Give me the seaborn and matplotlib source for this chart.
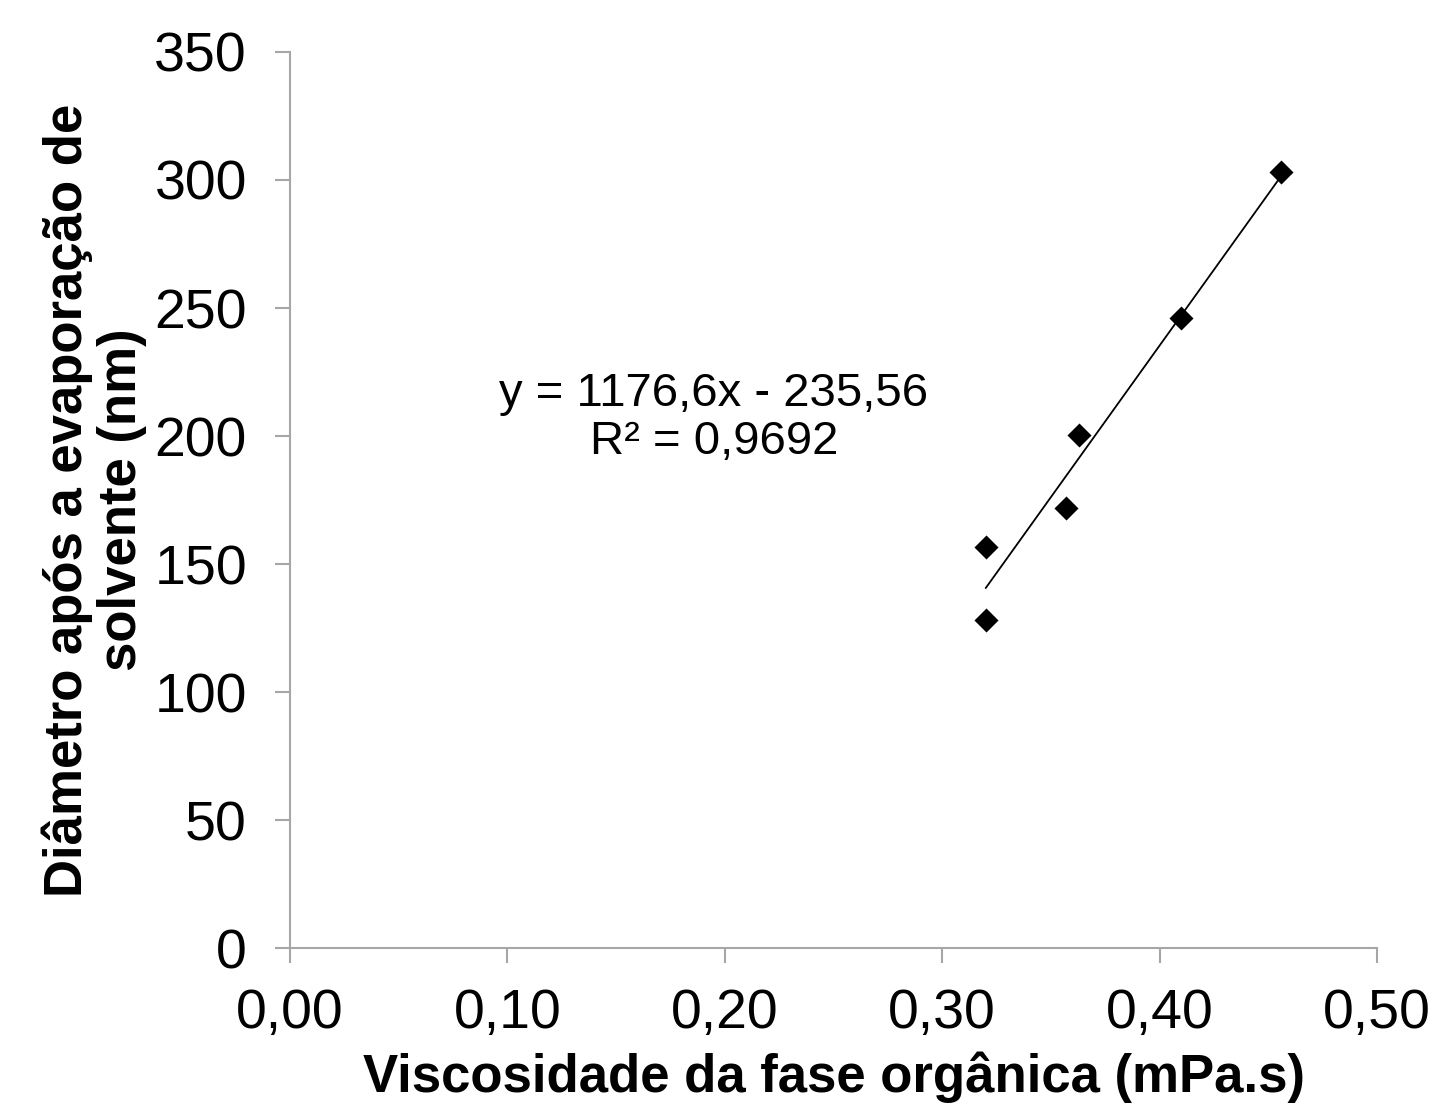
import numpy as np
import pandas as pd
import seaborn as sns
import matplotlib.pyplot as plt

# data
viscosidade = [0.320, 0.320, 0.357, 0.363, 0.410, 0.456]
diametro = [156.5, 128.0, 172.0, 200.5, 246.0, 303.0]
eq_text = "y = 1176,6x - 235,56\nR² = 0,9692"
x_ticks = [0.0, 0.1, 0.2, 0.3, 0.4, 0.5]
y_ticks = [0, 50, 100, 150, 200, 250, 300, 350]

df = pd.DataFrame({"visc": viscosidade, "diam": diametro})

sns.set_style("white")
plt.rcParams["font.family"] = ["Liberation Sans", "DejaVu Sans"]
plt.rcParams["text.color"] = "black"
plt.rcParams["axes.labelcolor"] = "black"

fig = plt.figure(figsize=(14.35, 11.11), dpi=100)
ax = fig.add_axes([0.2021, 0.1467, 0.7575, 0.8065])

sns.regplot(data=df, x="visc", y="diam", scatter=False, ci=None,
            color="black", line_kws={"linewidth": 1.3}, ax=ax)
sns.scatterplot(data=df, x="visc", y="diam", marker="D", s=150,
                color="black", linewidth=0, ax=ax, zorder=3)

ax.set_xlim(0, 0.5)
ax.set_ylim(0, 350)
ax.set_xticks(x_ticks)
ax.set_yticks(y_ticks)
ax.set_xticklabels([f"{v:.2f}".replace(".", ",") for v in x_ticks])
ax.set_yticklabels([str(v) for v in y_ticks])

for s in ["top", "right"]:
    ax.spines[s].set_visible(False)
for s in ["left", "bottom"]:
    ax.spines[s].set_color("#a6a6a6")
    ax.spines[s].set_linewidth(1.5)

ax.tick_params(axis="both", which="major", direction="out", length=11,
               width=1.5, color="#a6a6a6", labelcolor="black",
               labelsize=40, bottom=True, left=True)
ax.tick_params(axis="y", pad=20)
ax.tick_params(axis="x", pad=18)

ax.set_xlabel("Viscosidade da fase orgânica (mPa.s)", fontsize=38,
              fontweight="bold", labelpad=8)
ax.set_ylabel("Diâmetro após a evaporação de\nsolvente (nm)", fontsize=38,
              fontweight="bold", labelpad=5, linespacing=1.1)

ax.text(0.195, 207, eq_text, ha="center", va="center", fontsize=34,
        linespacing=1.12)

fig.savefig("out.png", dpi=100)
